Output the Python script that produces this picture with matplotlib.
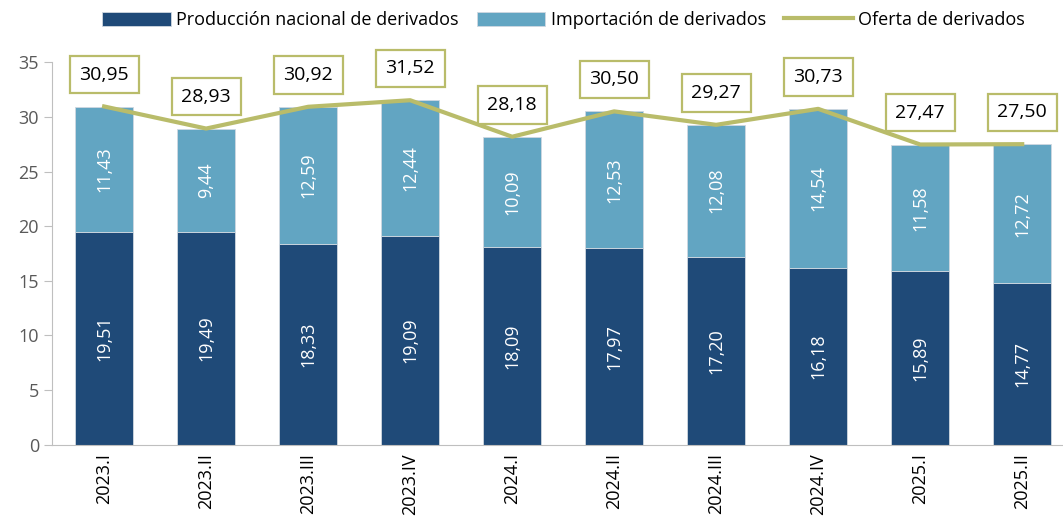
import matplotlib.pyplot as plt
import numpy as np

periods = ["2023.I", "2023.II", "2023.III", "2023.IV", "2024.I", "2024.II",
           "2024.III", "2024.IV", "2025.I", "2025.II"]
produccion = [19.51, 19.49, 18.33, 19.09, 18.09, 17.97, 17.20, 16.18, 15.89, 14.77]
importacion = [11.43, 9.44, 12.59, 12.44, 10.09, 12.53, 12.08, 14.54, 11.58, 12.72]
oferta = [30.95, 28.93, 30.92, 31.52, 28.18, 30.50, 29.27, 30.73, 27.47, 27.50]

def fmt(v):
    return f"{v:.2f}".replace(".", ",")

plt.rcParams['font.family'] = ['Open Sans', 'DejaVu Sans']

dark = "#1F4A78"
light = "#62A5C2"
olive = "#B9BC6A"

fig = plt.figure(figsize=(10.63, 5.27), dpi=100)
ax = fig.add_axes([0.049, 0.156, 0.951, 0.726])

x = np.arange(len(periods))
w = 0.57
b1 = ax.bar(x, produccion, w, color=dark, label="Producción nacional de derivados",
            edgecolor="#d0d8e0", linewidth=0.6)
b2 = ax.bar(x, importacion, w, bottom=produccion, color=light,
            label="Importación de derivados", edgecolor="#d0d8e0", linewidth=0.6)
ln, = ax.plot(x, oferta, color=olive, linewidth=3, label="Oferta de derivados")

for i in range(len(x)):
    ax.text(x[i], produccion[i] / 2, fmt(produccion[i]), rotation=90,
            ha="center", va="center", color="white", fontsize=13)
    ax.text(x[i], produccion[i] + importacion[i] / 2, fmt(importacion[i]),
            rotation=90, ha="center", va="center", color="white", fontsize=13)
    ax.annotate(fmt(oferta[i]), (x[i], oferta[i]), xytext=(0, 23),
                textcoords="offset points", ha="center", va="center",
                fontsize=14, color="black",
                bbox=dict(boxstyle="square,pad=0.5", fc="white", ec=olive, lw=1.6))

ax.set_ylim(0, 35)
ax.set_xlim(-0.51, 9.4)
ax.set_yticks(range(0, 36, 5))
ax.set_xticks(x)
ax.set_xticklabels(periods, rotation=90, fontsize=13)
ax.tick_params(axis="y", labelsize=13, colors="#595959", length=6, color="#bfbfbf")
ax.tick_params(axis="x", length=0, labelcolor="black", pad=6)
for s in ["top", "right"]:
    ax.spines[s].set_visible(False)
ax.spines["left"].set_color("#bfbfbf")
ax.spines["bottom"].set_color("#bfbfbf")

fig.legend(handles=[b1, b2, ln], loc="upper center", bbox_to_anchor=(0.53, 1.01),
           ncol=3, frameon=False, fontsize=13, handlelength=3.8, handleheight=0.8,
           columnspacing=1.0, handletextpad=0.3)

fig.savefig("out.png", dpi=100)
